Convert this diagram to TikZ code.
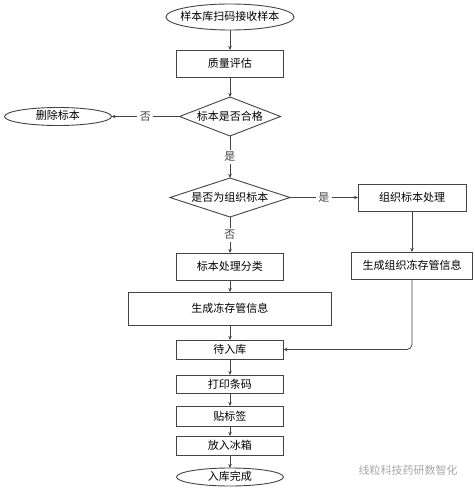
\documentclass[tikz,border=0pt]{standalone}
\usepackage{fontspec}
\setmainfont{Noto Sans CJK SC}
\usepackage{xcolor}
\usepackage{tikz}
\usetikzlibrary{shapes.geometric,arrows.meta,positioning}

\definecolor{lineclr}{HTML}{444444}

\begin{document}
\begin{tikzpicture}[
  font=\fontsize{11pt}{13pt}\selectfont,
  box/.style  = {rectangle, draw=lineclr, line width=0.9pt, outer sep=0pt,
                 minimum width=107pt, minimum height=27pt,
                 inner sep=0pt, text centered},
  term/.style = {ellipse, draw=lineclr, line width=0.9pt, outer sep=0pt,
                 minimum width=107pt, minimum height=18pt,
                 inner xsep=-8pt, inner ysep=0pt,
                 text height=8pt, text depth=2pt},
  dec/.style  = {diamond, draw=lineclr, line width=0.9pt, outer sep=0pt,
                 inner sep=0pt, shape aspect=2.6,
                 minimum width=101pt, minimum height=39pt},
  arr/.style  = {-{Stealth[length=4pt,width=3.5pt]}, lineclr, line width=0.8pt},
  lbl/.style  = {fill=white, inner sep=2.5pt}
]
\useasboundingbox (-230pt,17pt) rectangle (244pt,-473pt);

% --- main column ---
\node[term, minimum width=128pt, minimum height=26pt] (scan) {样本库扫码接收样本};
\node[box,  below=20pt of scan]  (qual)  {质量评估};
\node[dec,  below=20pt of qual]  (ok)    {标本是否合格};
\node[dec,  below=42pt of ok, minimum width=120pt, shape aspect=3] (istis) {是否为组织标本};
\node[box,  below=36pt of istis] (sort)  {标本处理分类};
\node[box,  below=12pt of sort, minimum width=203pt, minimum height=33pt] (info) {生成冻存管信息};
\node[box,  below=15pt of info, minimum height=19pt]  (wait)  {待入库};
\node[box,  below=16pt of wait, minimum height=18pt]  (print) {打印条码};
\node[box,  below=13pt of print, minimum height=20pt] (label) {贴标签};
\node[box,  below=10pt of label, minimum height=19pt] (fridge) {放入冰箱};
\node[term, below=13pt of fridge] (done)  {入库完成};

% --- side nodes ---
\node[term, left=68pt of ok] (del) {删除标本};
\node[box,  right=68pt of istis, minimum width=108pt] (tproc) {组织标本处理};
\node[box,  below=41pt of tproc, minimum width=121pt] (tinfo) {生成组织冻存管信息};

% --- arrows ---
\draw[arr] (scan)   -- (qual);
\draw[arr] (qual)   -- (ok);
\draw[arr] (ok)     -- node[lbl]{否} (del);
\draw[arr] (ok)     -- node[lbl]{是} (istis);
\draw[arr] (istis)  -- node[lbl]{是} (tproc);
\draw[arr] (istis)  -- node[lbl]{否} (sort);
\draw[arr] (sort)   -- (info);
\draw[arr] (info)   -- (wait);
\draw[arr] (tproc)  -- (tinfo);
\draw[arr, rounded corners=5pt] (tinfo.south) |- (wait.east);
\draw[arr] (wait)   -- (print);
\draw[arr] (print)  -- (label);
\draw[arr] (label)  -- (fridge);
\draw[arr] (fridge) -- (done);

% --- watermark ---
\node[text=gray!70, anchor=west] (mark) at (125pt,-453pt) {线粒科技药研数智化};

\end{tikzpicture}
\end{document}
